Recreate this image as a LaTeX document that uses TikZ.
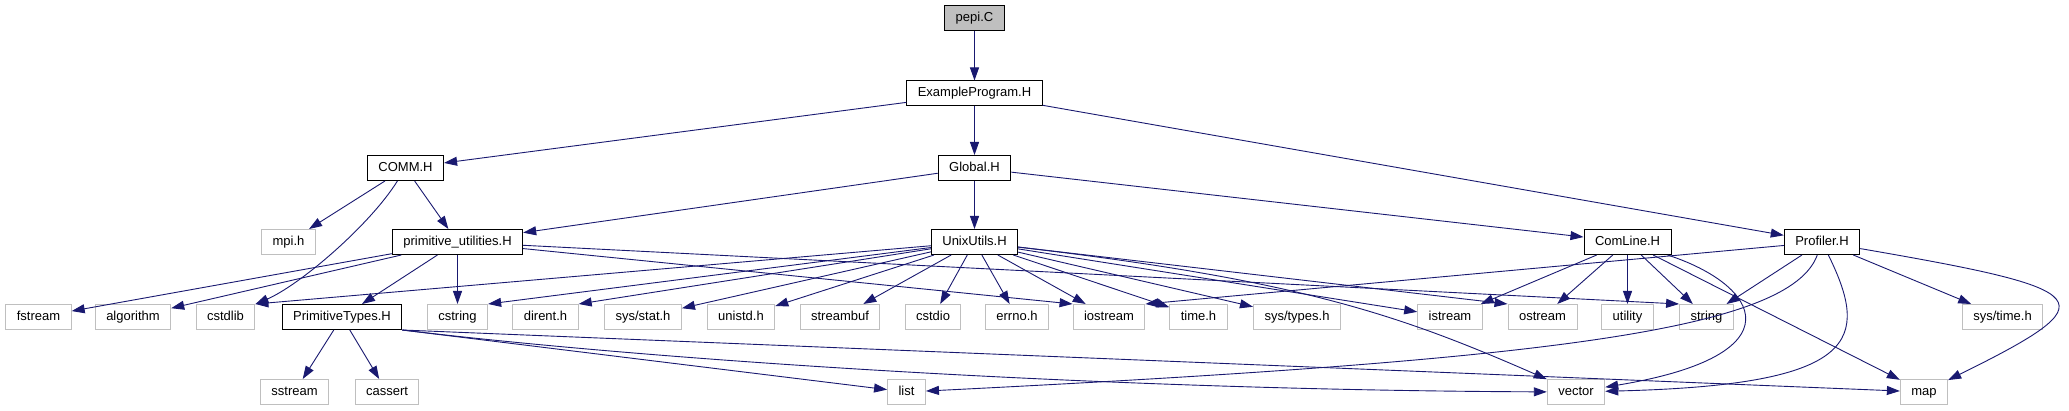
\documentclass[tikz,border=0pt]{standalone}
\usepackage{fontspec}
\setmainfont{Liberation Sans}
\usetikzlibrary{arrows.meta}
\definecolor{edgeblue}{HTML}{191970}
\definecolor{sysgray}{HTML}{BFBFBF}
\tikzstyle{header} = [rectangle, draw=black, line width=1pt, fill=white,
    font=\fontsize{13}{15}\selectfont, inner xsep=11pt, minimum height=25pt,
    text height=9.5pt, text depth=2.5pt]
\tikzstyle{sysheader} = [header, draw=sysgray]
\tikzstyle{source} = [header, fill=sysgray]
\tikzstyle{line} = [draw=edgeblue, line width=0.9pt, -{Triangle[length=13pt,width=9pt]}]

\begin{document}
\begin{tikzpicture}[x=1pt,y=-1pt]
    \useasboundingbox (0,0) rectangle (2069,411);
    % Place nodes
    \node [source] (pepi) at (974.5,18.5) {pepi.C};
    \node [header,below of=pepi,node distance=75pt] (example) {ExampleProgram.H};
    \node [header,below of=example,node distance=74.5pt] (global) {Global.H};
    \node [header,left of=global,node distance=569pt] (comm) {COMM.H};

    \node [header,below of=global,node distance=74pt] (unix) {UnixUtils.H};
    \node [header,left of=unix,node distance=517pt] (primutil) {primitive\_utilities.H};
    \node [sysheader,left of=primutil,node distance=169pt] (mpi) {mpi.h};
    \node [header,right of=unix,node distance=653pt] (comline) {ComLine.H};
    \node [header,right of=comline,node distance=194.5pt] (profiler) {Profiler.H};

    \node [sysheader,below of=primutil,node distance=75pt] (cstring) {cstring};
    \node [header,left of=cstring,node distance=115.5pt] (primtypes) {PrimitiveTypes.H};
    \node [sysheader,left of=primtypes,node distance=116.5pt] (cstdlib) {cstdlib};
    \node [sysheader,left of=cstdlib,node distance=92.5pt] (algorithm) {algorithm};
    \node [sysheader,left of=algorithm,node distance=94.5pt] (fstream) {fstream};
    \node [sysheader,right of=cstring,node distance=88pt] (dirent) {dirent.h};
    \node [sysheader,right of=dirent,node distance=97.5pt] (sysstat) {sys/stat.h};
    \node [sysheader,right of=sysstat,node distance=98pt] (unistd) {unistd.h};
    \node [sysheader,right of=unistd,node distance=99pt] (streambuf) {streambuf};
    \node [sysheader,right of=streambuf,node distance=93pt] (cstdio) {cstdio};
    \node [sysheader,right of=cstdio,node distance=84pt] (errno) {errno.h};
    \node [sysheader,right of=errno,node distance=92pt] (iostream) {iostream};
    \node [sysheader,right of=iostream,node distance=89.5pt] (timeh) {time.h};
    \node [sysheader,right of=timeh,node distance=98.5pt] (systypes) {sys/types.h};
    \node [sysheader,right of=systypes,node distance=153pt] (istream) {istream};
    \node [sysheader,right of=istream,node distance=92.5pt] (ostream) {ostream};
    \node [sysheader,right of=ostream,node distance=85pt] (utility) {utility};
    \node [sysheader,right of=utility,node distance=79pt] (string) {string};
    \node [sysheader,right of=string,node distance=296pt] (systime) {sys/time.h};

    \node [sysheader,below of=primtypes,node distance=75pt,xshift=-47.5pt] (sstream) {sstream};
    \node [sysheader,right of=sstream,node distance=92.5pt] (cassert) {cassert};
    \node [sysheader,right of=cassert,node distance=519.5pt] (list) {list};
    \node [sysheader,right of=list,node distance=669.5pt] (vector) {vector};
    \node [sysheader,right of=vector,node distance=348pt] (map) {map};

    % Draw edges
    \path [line] (pepi) -- (example);
    \path [line] (example) -- (comm);
    \path [line] (example) -- (global);
    \path [line] (example) -- (profiler);

    \path [line] (comm) -- (mpi);
    \path [line] (comm) -- (primutil);
    \path [line] (comm) .. controls (370,225) and (300,285) .. (cstdlib);

    \path [line] (global) -- (primutil);
    \path [line] (global) -- (unix);
    \path [line] (global) -- (comline);

    \path [line] (primutil) -- (fstream);
    \path [line] (primutil) -- (algorithm);
    \path [line] (primutil) -- (primtypes);
    \path [line] (primutil) -- (cstring);
    \path [line] (primutil) -- (iostream.north west);
    \path [line] (primutil) -- (string.north west);

    \path [line] (primtypes) -- (sstream);
    \path [line] (primtypes) -- (cassert);
    \path [line] (primtypes.south east) -- (list);
    \path [line] (primtypes.south east) .. controls (650,360) and (1100,390) .. (vector);
    \path [line] (primtypes.south east) -- (map);

    \path [line] (unix) -- (cstdlib.north east);
    \path [line] (unix) -- (cstring.north east);
    \path [line] (unix) -- (dirent.north east);
    \path [line] (unix) -- (sysstat);
    \path [line] (unix) -- (unistd);
    \path [line] (unix) -- (streambuf);
    \path [line] (unix) -- (cstdio);
    \path [line] (unix) -- (errno);
    \path [line] (unix) -- (iostream);
    \path [line] (unix) -- (timeh);
    \path [line] (unix) -- (systypes);
    \path [line] (unix) -- (istream);
    \path [line] (unix) -- (ostream.north west);
    \path [line] (unix) .. controls (1300,280) and (1400,315) .. (vector);

    \path [line] (comline) -- (istream);
    \path [line] (comline) -- (ostream);
    \path [line] (comline) -- (utility);
    \path [line] (comline) -- (string);
    \path [line] (comline) -- (map);
    \path [line] (comline) .. controls (1760,285) and (1800,355) .. (vector);

    \path [line] (profiler) -- (iostream.north east);
    \path [line] (profiler) -- (string);
    \path [line] (profiler) -- (systime);
    \path [line] (profiler) .. controls (1790,330) and (1550,360) .. (list);
    \path [line] (profiler) .. controls (1870,340) and (1860,385) .. (vector);
    \path [line] (profiler) .. controls (2100,290) and (2110,300) .. (map);

\end{tikzpicture}
\end{document}
